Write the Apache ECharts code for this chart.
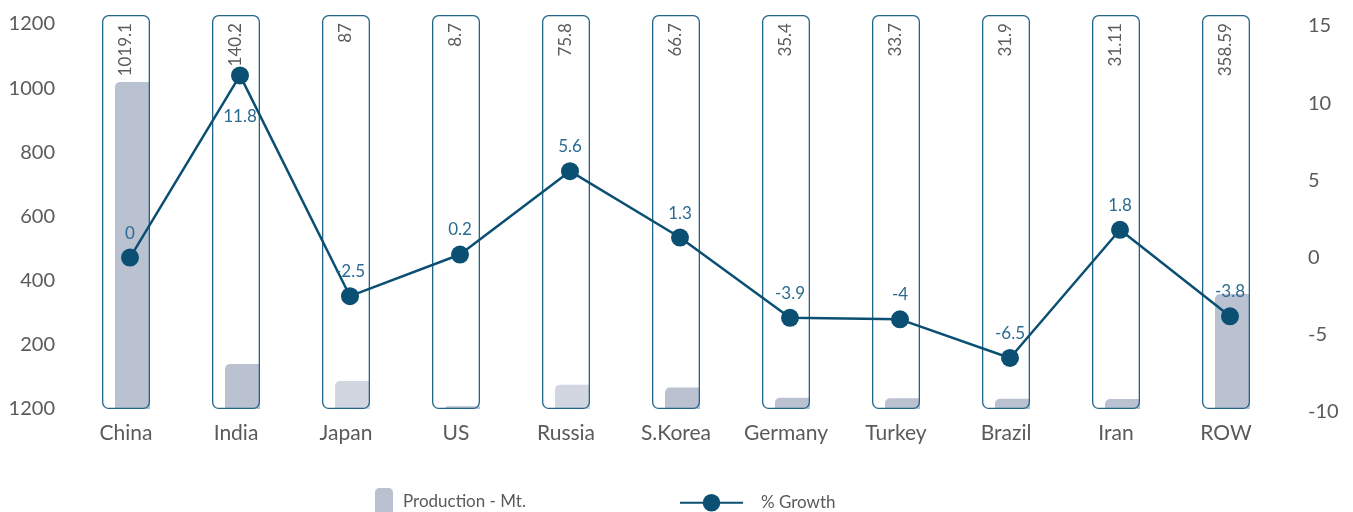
<!DOCTYPE html>
<html>
<head>
<meta charset="utf-8">
<title>Production and growth by country</title>
<script src="https://cdn.jsdelivr.net/npm/echarts@6/dist/echarts.min.js"></script>
<style>
  html, body { margin: 0; padding: 0; background: #ffffff; }
  #chart { width: 1353px; height: 512px; }
</style>
</head>
<body>
<div id="chart"></div>
<script>
// Countries along the x axis
const CATEGORIES = ['China', 'India', 'Japan', 'US', 'Russia', 'S.Korea', 'Germany', 'Turkey', 'Brazil', 'Iran', 'ROW'];
// Production in million tonnes
const PRODUCTION = [1019.1, 140.2, 87, 8.7, 75.8, 66.7, 35.4, 33.7, 31.9, 31.11, 358.59];
// Year-on-year growth in percent
const GROWTH = [0, 11.8, -2.5, 0.2, 5.6, 1.3, -3.9, -4, -6.5, 1.8, -3.8];
// Left axis tick labels, from the bottom tick upwards
const LEFT_TICK_LABELS = ['1200', '200', '400', '600', '800', '1000', '1200'];

// Height of the rounded frame drawn behind every bar (left-axis units)
const FRAME_TOP = 1228;
// Bars shown in the lighter tint
const LIGHT_BARS = ['Japan', 'Russia'];

const FONT = 'Lato, "Open Sans", sans-serif';
const TEXT_GREY = '#5a5a5a';
const LINE_BLUE = '#0b5073';
const LABEL_BLUE = '#2b6b91';
const FRAME_BLUE = '#236589';
const BAR_GREY = '#bac1d1';
const BAR_LIGHT = '#d2d6e1';

const chart = echarts.init(document.getElementById('chart'), null, { renderer: 'canvas' });

const option = {
  backgroundColor: '#ffffff',
  animation: false,
  textStyle: { fontFamily: FONT },
  grid: [
    { left: 71, right: 72, top: 24, bottom: 103 },
    { left: 75, right: 68, top: 26, bottom: 100 }
  ],
  legend: [
    {
      left: 375, top: 488, padding: 0,
      itemWidth: 18, itemHeight: 28, itemGap: 10,
      icon: 'roundRect',
      data: [{ name: 'Production - Mt.', itemStyle: { color: BAR_GREY } }],
      textStyle: { fontFamily: FONT, fontSize: 17, color: TEXT_GREY, padding: [0, 0, 0, 5] },
      selectedMode: false
    },
    {
      left: 679, top: 494, padding: 0,
      itemWidth: 63, itemHeight: 22, itemGap: 10,
      data: ['% Growth'],
      textStyle: { fontFamily: FONT, fontSize: 17, color: TEXT_GREY, padding: [0, 0, 0, 13] },
      selectedMode: false
    }
  ],
  xAxis: [
    {
      type: 'category', gridIndex: 0, data: CATEGORIES,
      axisLine: { show: false }, axisTick: { show: false },
      axisLabel: { margin: 14, fontFamily: FONT, fontSize: 21, color: TEXT_GREY }
    },
    {
      type: 'category', gridIndex: 1, data: CATEGORIES, show: false
    }
  ],
  yAxis: [
    {
      type: 'value', gridIndex: 0, min: 0, max: 1200, interval: 200,
      axisLine: { show: false }, axisTick: { show: false }, splitLine: { show: false },
      axisLabel: {
        margin: 16, fontFamily: FONT, fontSize: 20, color: TEXT_GREY,
        formatter: (v) => LEFT_TICK_LABELS[Math.round(v / 200)]
      }
    },
    {
      type: 'value', gridIndex: 1, position: 'right', min: -10, max: 15, interval: 5,
      axisLine: { show: false }, axisTick: { show: false }, splitLine: { show: false },
      axisLabel: { margin: 23, align: 'left', fontFamily: FONT, fontSize: 20, color: TEXT_GREY }
    }
  ],
  series: [
    {
      // rounded frame around each bar, carrying the production label
      name: 'frame',
      type: 'bar', xAxisIndex: 0, yAxisIndex: 0,
      data: CATEGORIES.map(() => FRAME_TOP),
      barWidth: 48,
      barGap: '-72.92%',
      clip: false,
      z: 3,
      silent: true,
      itemStyle: {
        color: 'rgba(255,255,255,0)',
        borderColor: FRAME_BLUE,
        borderWidth: 1.3,
        borderRadius: 6
      },
      label: {
        show: true,
        position: 'insideTop',
        distance: 8,
        rotate: 90,
        align: 'right',
        verticalAlign: 'middle',
        fontFamily: FONT,
        fontSize: 17,
        color: TEXT_GREY,
        formatter: (p) => String(PRODUCTION[p.dataIndex])
      }
    },
    {
      name: 'Production - Mt.',
      type: 'bar', xAxisIndex: 0, yAxisIndex: 0,
      data: PRODUCTION.map((v, i) => ({
        value: v,
        itemStyle: { color: LIGHT_BARS.includes(CATEGORIES[i]) ? BAR_LIGHT : BAR_GREY }
      })),
      barWidth: 35,
      z: 2,
      itemStyle: { color: BAR_GREY, borderRadius: [5, 0, 0, 0] }
    },
    {
      name: '% Growth',
      type: 'line', xAxisIndex: 1, yAxisIndex: 1,
      data: GROWTH.map((v, i) => (CATEGORIES[i] === 'India'
        ? { value: v, label: { position: 'bottom', distance: 24 } }
        : v)),
      z: 6,
      symbol: 'circle',
      symbolSize: 18,
      lineStyle: { color: LINE_BLUE, width: 2.5 },
      itemStyle: { color: LINE_BLUE },
      label: {
        show: true,
        position: 'top',
        distance: 7,
        fontFamily: FONT,
        fontSize: 17,
        color: LABEL_BLUE
      }
    }
  ]
};

chart.setOption(option);
</script>
</body>
</html>
